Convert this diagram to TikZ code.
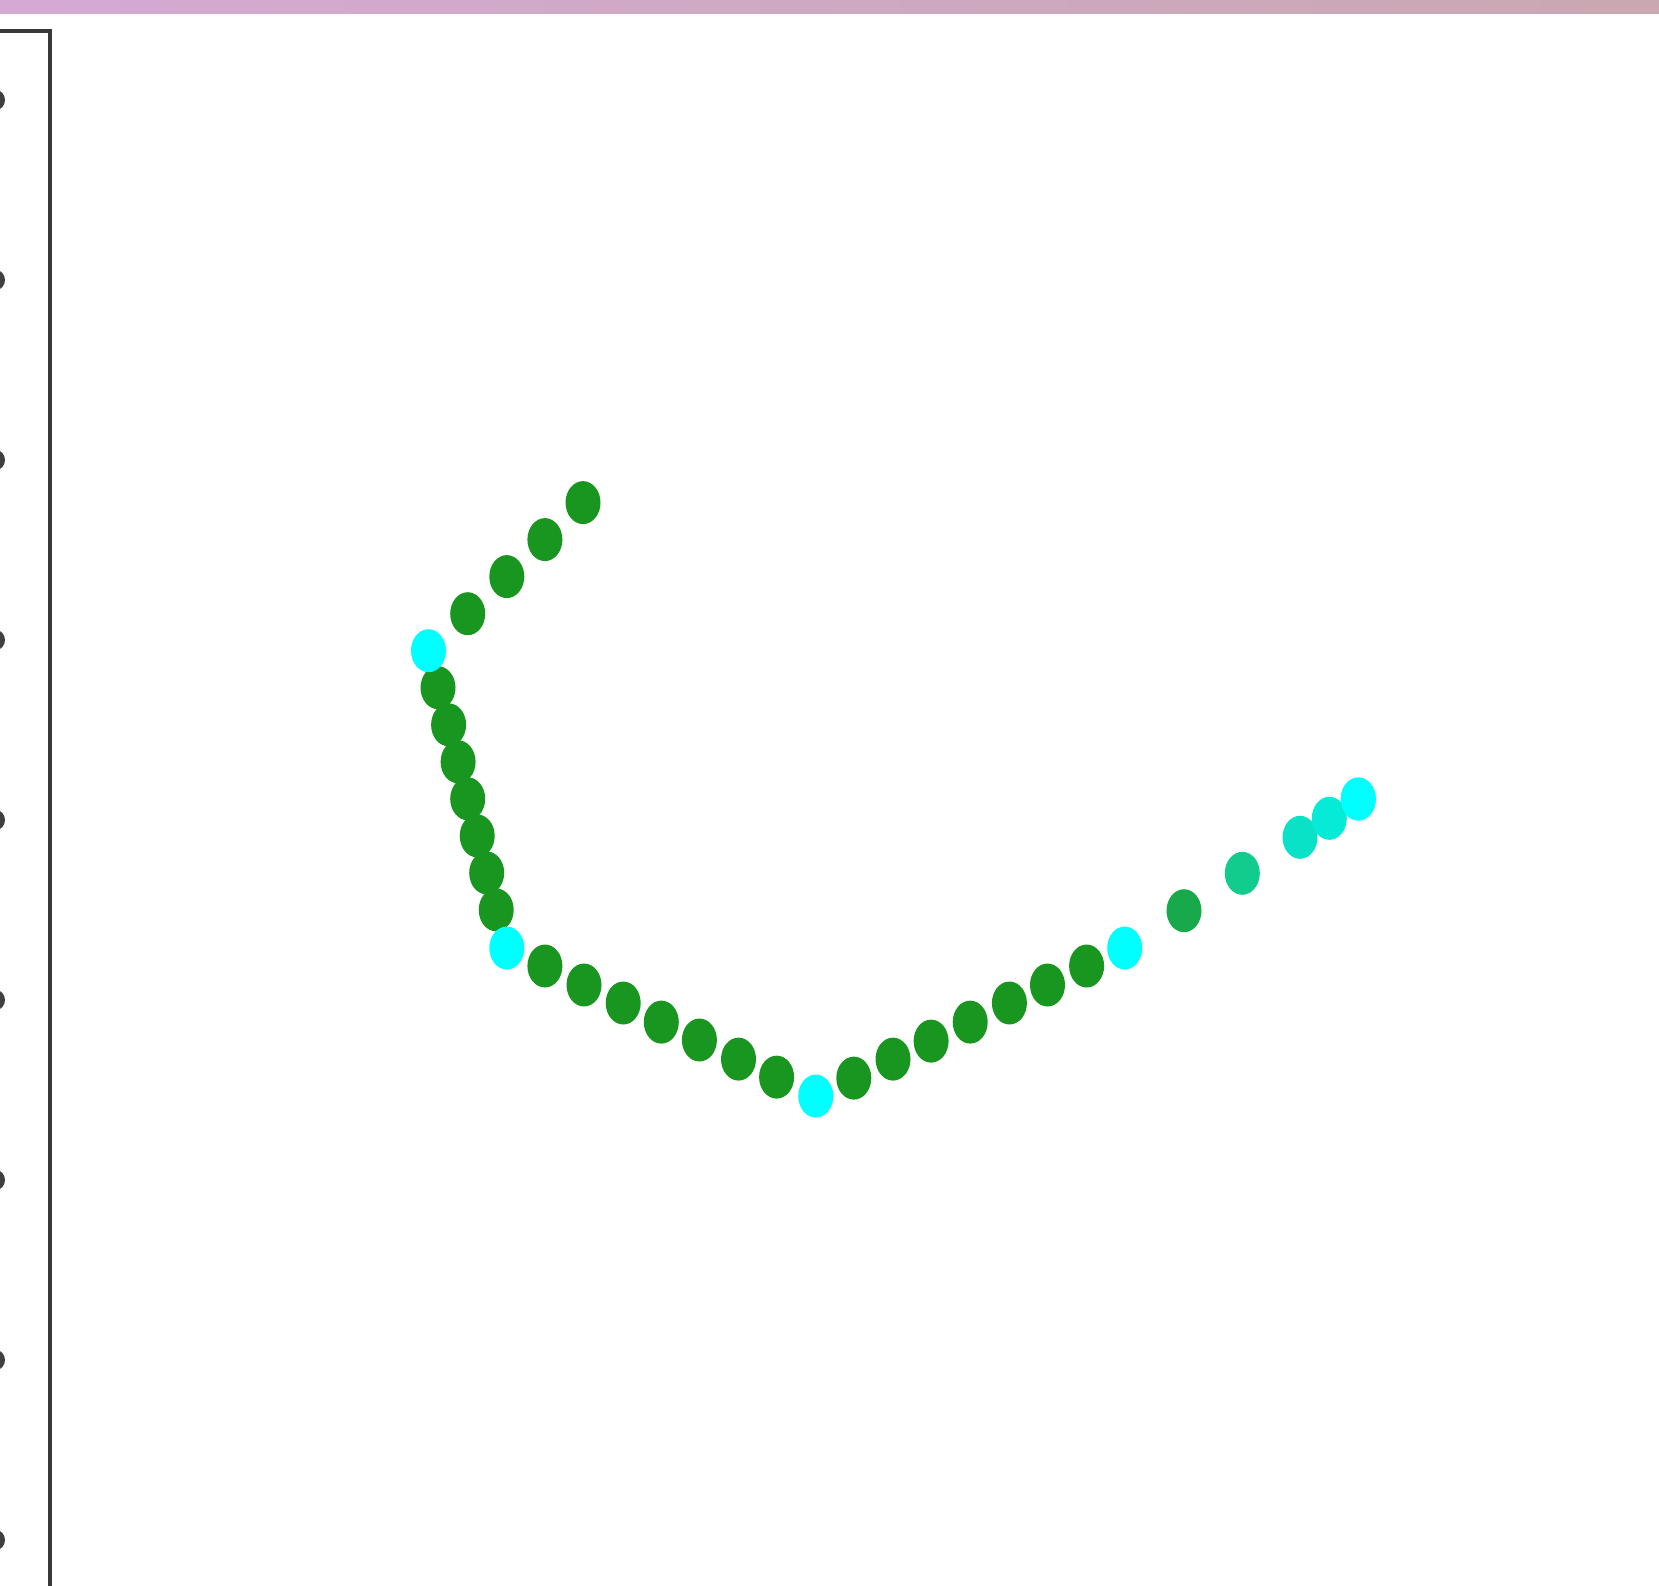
\documentclass[tikz,border=0pt]{standalone}
\begin{document}
\begin{tikzpicture}[x=0.5pt,y=-0.5pt,
  frameline/.style={draw=black!78,line width=1.9pt}]
\definecolor{dgreen}{HTML}{18961F}
\definecolor{cyanc}{HTML}{00FFFF}
\definecolor{barL}{HTML}{D5A9D4}
\definecolor{barR}{HTML}{C9A8B1}
\definecolor{tickc}{HTML}{404040}
\useasboundingbox (0,0) rectangle (1659,1585);
\begin{scope}
\clip (0,0) rectangle (1659,1585);
% top bar
\shade[left color=barL,right color=barR] (0,0) rectangle (1659,13.5);
% frame
\draw[frameline] (0,31) -- (50,31) -- (50,1590);
% ticks at left edge
\foreach \yy in {100,280,...,1540} \fill[tickc] (-4,\yy) ellipse (9 and 10);
% green dots
\foreach \xx/\yy in {583/502.6,544.9/539.6,506.8/576.6,467.7/613.7,
  438/687.7,448.6/724.8,458.1/761.8,467.7/798.8,477.2/835.9,486.7/872.9,496.2/909.9,
  544.9/966,584/985,623.2/1003,661.3/1022.1,699.4/1040,738.5/1059.1,776.6/1077.1,
  853.8/1078.1,893/1059.1,931.1/1041.1,970.2/1022.1,1009.4/1003,1047.5/985,1086.6/966}
  \fill[dgreen] (\xx,\yy) ellipse (17.5 and 21.5);
% cyan dots
\foreach \xx/\yy in {428.5/650.7,506.8/948,815.8/1096.1,1124.7/948,1358.3/799}
  \fill[cyanc] (\xx,\yy) ellipse (17.5 and 21.5);
% gradient dots
\fill[fill={rgb,255:red,24;green,170;blue,74}] (1184,910.7) ellipse (17.5 and 21.5);
\fill[fill={rgb,255:red,18;green,204;blue,142}] (1242.3,873.3) ellipse (17.5 and 21.5);
\fill[fill={rgb,255:red,10;green,226;blue,200}] (1300,837.3) ellipse (17.5 and 21.5);
\fill[fill={rgb,255:red,6;green,234;blue,216}] (1329.3,818.3) ellipse (17.5 and 21.5);
\fill[cyanc] (1358.3,799) ellipse (17.5 and 21.5);
\end{scope}
\end{tikzpicture}
\end{document}
